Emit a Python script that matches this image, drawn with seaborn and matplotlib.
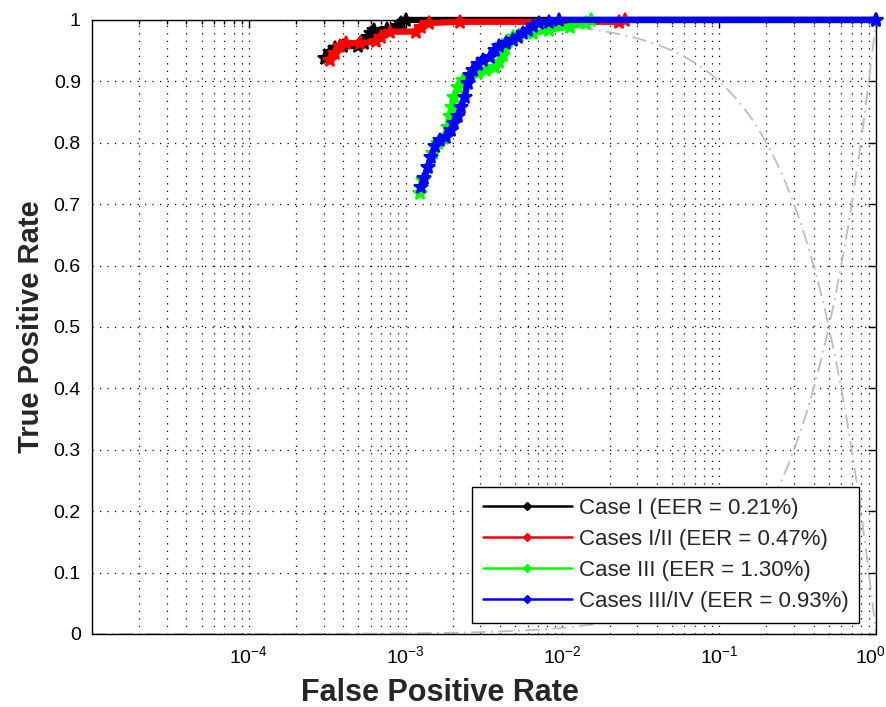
import numpy as np
import matplotlib
matplotlib.use('Agg')
import matplotlib.pyplot as plt
import matplotlib.transforms as mtransforms
import seaborn as sns
from matplotlib.lines import Line2D
from matplotlib.ticker import LogLocator, NullFormatter

# ROC points (false positive rate, true positive rate)
case1_fpr = [3.05e-4, 3.31e-4, 3.55e-4, 3.98e-4, 5.0e-4, 5.4e-4, 5.75e-4, 6.0e-4,
             6.3e-4, 7.6e-4, 8.9e-4, 9.3e-4, 1.0e-3, 1.0]
case1_tpr = [0.938, 0.947, 0.955, 0.957, 0.958, 0.962, 0.972, 0.979,
             0.983, 0.985, 0.990, 0.995, 1.0, 1.0]

case12_fpr = [3.28e-4, 3.53e-4, 3.80e-4, 4.19e-4, 5.09e-4, 6.50e-4, 7.00e-4, 7.91e-4,
              1.17e-3, 1.26e-3, 1.42e-3, 2.21e-3, 2.3e-2, 2.5e-2, 1.0]
case12_tpr = [0.935, 0.946, 0.957, 0.962, 0.962, 0.965, 0.973, 0.981,
              0.981, 0.989, 0.995, 0.997, 0.997, 1.0, 1.0]

case3_fpr = [1.23e-3, 1.30e-3, 1.39e-3, 1.49e-3, 1.61e-3, 1.77e-3, 1.86e-3, 1.91e-3,
             1.98e-3, 2.05e-3, 2.15e-3, 2.32e-3, 2.56e-3, 2.89e-3, 3.27e-3, 3.69e-3,
             3.97e-3, 4.17e-3, 4.28e-3, 4.49e-3, 4.83e-3, 5.32e-3, 6.47e-3, 8.26e-3,
             1.11e-2, 1.42e-2, 1.53e-2, 1.0]
case3_tpr = [0.718, 0.739, 0.761, 0.783, 0.799, 0.807, 0.826, 0.843,
             0.859, 0.875, 0.891, 0.902, 0.910, 0.913, 0.919, 0.924,
             0.932, 0.943, 0.954, 0.965, 0.973, 0.976, 0.978, 0.984,
             0.989, 0.995, 1.0, 1.0]

case34_fpr = [1.26e-3, 1.32e-3, 1.39e-3, 1.46e-3, 1.53e-3, 1.65e-3, 1.82e-3, 1.95e-3,
              2.05e-3, 2.15e-3, 2.26e-3, 2.38e-3, 2.49e-3, 2.56e-3, 2.69e-3, 2.89e-3,
              3.10e-3, 3.43e-3, 3.69e-3, 3.97e-3, 4.38e-3, 4.83e-3, 5.19e-3, 5.58e-3,
              6.01e-3, 6.47e-3, 7.14e-3, 8.26e-3, 9.57e-3, 1.0]
case34_tpr = [0.728, 0.742, 0.761, 0.777, 0.794, 0.805, 0.810, 0.821,
              0.832, 0.843, 0.859, 0.875, 0.897, 0.910, 0.919, 0.929,
              0.935, 0.940, 0.951, 0.957, 0.962, 0.967, 0.973, 0.978,
              0.984, 0.990, 0.995, 0.997, 1.0, 1.0]

labels = ['Case I (EER = 0.21%)', 'Cases I/II (EER = 0.47%)',
          'Case III (EER = 1.30%)', 'Cases III/IV (EER = 0.93%)']
colors = ['#000000', '#ff0000', '#00ff00', '#0000ff']

x_ticks = [1e-4, 1e-3, 1e-2, 1e-1, 1e0]
x_ticklabels = ['$10^{-4}$', '$10^{-3}$', '$10^{-2}$', '$10^{-1}$', '$10^{0}$']
y_ticks = [0, 0.1, 0.2, 0.3, 0.4, 0.5, 0.6, 0.7, 0.8, 0.9, 1]

sns.set_style('white')
plt.rcParams['font.family'] = ['Liberation Sans', 'DejaVu Sans']
plt.rcParams['mathtext.fontset'] = 'custom'
plt.rcParams['mathtext.rm'] = 'Liberation Sans'
plt.rcParams['mathtext.it'] = 'Liberation Sans'

fig = plt.figure(figsize=(8.87, 7.07), dpi=100)
ax = fig.add_axes([0.1037, 0.1033, 0.8839, 0.8685])

# EER reference lines (y = x and y = 1 - x) on the log axis
ref_fpr = np.logspace(-5, 0, 400)
ax.plot(ref_fpr, 1 - ref_fpr, color='#bdbdbd', lw=1.3, ls=(0, (8, 3, 1, 3)), zorder=2)
ax.plot(ref_fpr, ref_fpr, color='#bdbdbd', lw=1.3, ls=(0, (8, 3, 1, 3)), zorder=2)

curves = [(case1_fpr, case1_tpr), (case12_fpr, case12_tpr),
          (case3_fpr, case3_tpr), (case34_fpr, case34_tpr)]
for (fx, ty), c in zip(curves, colors):
    sns.lineplot(x=fx, y=ty, ax=ax, color=c, sort=False, estimator=None,
                 lw=4.5, marker='*', markersize=10, markeredgecolor=c,
                 markeredgewidth=1.5, clip_on=False, zorder=3)

ax.set_xscale('log')
ax.set_xlim(1e-5, 1)
ax.set_ylim(0, 1)
ax.set_xticks(x_ticks)
ax.set_xticklabels(x_ticklabels)
ax.xaxis.set_minor_locator(LogLocator(base=10, subs=np.arange(2, 10)))
ax.xaxis.set_minor_formatter(NullFormatter())
ax.set_yticks(y_ticks)
ax.set_yticklabels(['%g' % v for v in y_ticks])

grid_kw = dict(color='black', lw=0.9, ls=(0, (1, 5)))
ax.grid(True, which='major', axis='both', **grid_kw)
ax.grid(True, which='minor', axis='x', **grid_kw)
ax.set_axisbelow(True)

ax.tick_params(which='both', direction='in', top=True, right=True,
               colors='black', labelsize=14, width=1)
ax.tick_params(which='major', length=6, pad=8)
ax.tick_params(which='minor', length=3)
for s in ax.spines.values():
    s.set_color('black')
    s.set_linewidth(1)

# keep the 10^0 label inside the figure
last = ax.get_xticklabels()[-1]
last.set_transform(last.get_transform() +
                   mtransforms.ScaledTranslation(-6 / 100, 0, fig.dpi_scale_trans))

ax.set_xlabel('False Positive Rate', fontsize=22, fontweight='bold')
ax.xaxis.set_label_coords(0.444, -0.071)
ax.set_ylabel('True Positive Rate', fontsize=21, fontweight='bold', labelpad=6)

handles = [Line2D([], [], color=c, lw=1.8, marker='D', markersize=4.5) for c in colors]
leg = ax.legend(handles, labels, loc='lower right', fontsize=16, frameon=True,
                fancybox=False, edgecolor='black', framealpha=1,
                handlelength=4.0, borderaxespad=0.5, labelspacing=0.45,
                handletextpad=0.3, borderpad=0.5,
                bbox_to_anchor=(0.993, 0.0))
leg.get_frame().set_linewidth(1)

fig.savefig('out.png', dpi=100)
